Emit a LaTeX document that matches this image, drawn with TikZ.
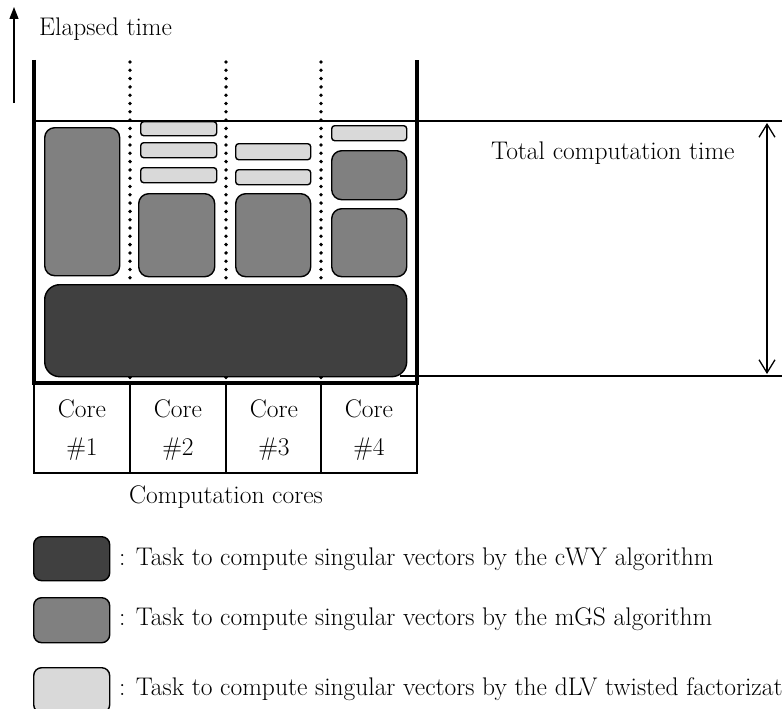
\documentclass[tikz,border=0pt]{standalone}
\usetikzlibrary{arrows.meta}
\begin{document}
\begin{tikzpicture}[x=1pt,y=-1pt,
  every node/.style={font=\fontsize{25.5}{30}\selectfont},
  task/.style={draw=black, line width=1.4pt, inner sep=0pt, anchor=north west},
  darktask/.style={task, fill=black!75, rounded corners=15pt},
  midtask/.style={task, fill=black!50, rounded corners=10pt},
  lighttask/.style={task, fill=black!15, rounded corners=3pt},
  wall/.style={line width=4pt},
  thin/.style={line width=1.3pt},
  dotline/.style={line width=3.8pt, line cap=round, dash pattern=on 0pt off 8.3pt},
  lbl/.style={inner sep=0pt}
]
\useasboundingbox (0,0) rectangle (782,709);
\clip (0,0) rectangle (782,709);

% time axis
\coordinate (ax0) at (14,103);
\coordinate (ax1) at (14,7);
\draw[thin, -{Triangle[length=12pt,width=9pt]}] (ax0) -- (ax1);
\node[lbl, anchor=base west] (elapsed) at (39,36) {Elapsed time};

% horizontal reference lines
\coordinate (top0) at (34,121);
\coordinate (top1) at (782,121);
\coordinate (bot0) at (400,376);
\coordinate (bot1) at (782,376);
\draw[thin] (top0) -- (top1);
\draw[thin] (bot0) -- (bot1);

% total time double arrow
\coordinate (ta0) at (767,123);
\coordinate (ta1) at (767,374);
\draw[thin, {Straight Barb[length=13pt,width=16pt]}-{Straight Barb[length=13pt,width=16pt]}] (ta0) -- (ta1);
\node[lbl, anchor=base west] (total) at (491,159) {Total computation time};

% dotted core separators
\foreach \x/\n in {130/a,226/b,321/c}{
  \coordinate (d\n0) at (\x,62);
  \coordinate (d\n1) at (\x,383);
  \draw[dotline] (d\n0) -- (d\n1);
}

% tasks
\node[midtask, minimum width=75pt, minimum height=148pt] (c1m) at (44,127) {};

\node[lighttask, minimum width=76pt, minimum height=14pt] (c2l1) at (140,121) {};
\node[lighttask, minimum width=76pt, minimum height=15pt] (c2l2) at (140,142) {};
\node[lighttask, minimum width=76pt, minimum height=15pt] (c2l3) at (140,167) {};
\node[midtask, minimum width=76pt, minimum height=83pt] (c2m) at (138,193) {};

\node[lighttask, minimum width=75pt, minimum height=16pt] (c3l1) at (235,143) {};
\node[lighttask, minimum width=75pt, minimum height=15pt] (c3l2) at (235,169) {};
\node[midtask, minimum width=75pt, minimum height=83pt] (c3m) at (235,193) {};

\node[lighttask, minimum width=75pt, minimum height=15pt] (c4l1) at (331,125) {};
\node[midtask, minimum width=75pt, minimum height=49pt] (c4m1) at (331,150) {};
\node[midtask, minimum width=75pt, minimum height=68pt] (c4m2) at (331,208) {};

\node[darktask, minimum width=362pt, minimum height=92pt] (cwy) at (44,284) {};

% walls
\coordinate (wl0) at (34,60);
\coordinate (wl1) at (34,383);
\coordinate (wr0) at (417,60);
\coordinate (wr1) at (417,383);
\draw[wall, line join=miter] (wl0) -- (wl1) -- (wr1) -- (wr0);

% core table
\coordinate (tb0) at (34,473);
\coordinate (tb1) at (417,473);
\draw[thin] (wl1) -- (tb0) -- (tb1) -- (wr1);
\foreach \x/\n in {130/a,226/b,321/c}{
  \coordinate (t\n0) at (\x,383);
  \coordinate (t\n1) at (\x,473);
  \draw[thin] (t\n0) -- (t\n1);
}
\foreach \x/\i in {82/1,178/2,274/3,369/4}{
  \node[lbl, anchor=base] (core\i) at (\x,417) {Core};
  \node[lbl, anchor=base] (num\i) at (\x,455) {\#\i};
}
\node[lbl, anchor=base] (cores) at (226,503) {Computation cores};

% legend
\node[darktask, rounded corners=8pt, minimum width=76pt, minimum height=44pt] (lg1) at (33,536) {};
\node[midtask, rounded corners=8pt, minimum width=76pt, minimum height=45pt] (lg2) at (33,597) {};
\node[lighttask, rounded corners=8pt, minimum width=76pt, minimum height=45pt] (lg3) at (33,667) {};
\node[lbl, anchor=base west] (lt1) at (119,565) {: Task to compute singular vectors by the cWY algorithm};
\node[lbl, anchor=base west] (lt2) at (119,625) {: Task to compute singular vectors by the mGS algorithm};
\node[lbl, anchor=base west] (lt3) at (119,695) {: Task to compute singular vectors by the dLV twisted factorization};
\end{tikzpicture}
\end{document}
